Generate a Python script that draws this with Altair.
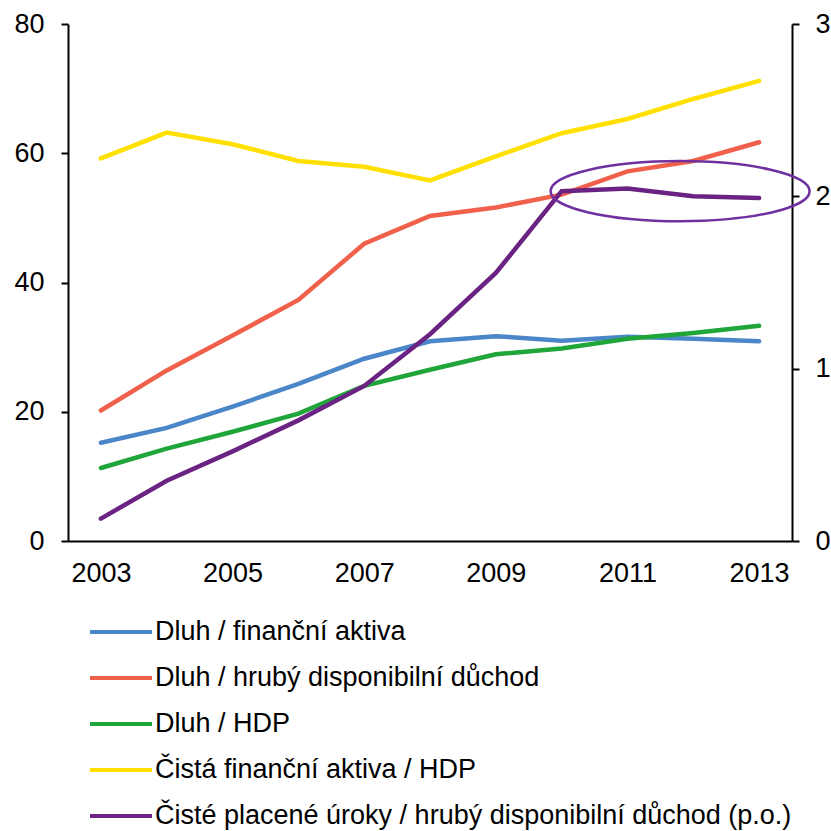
import altair as alt
import pandas as pd

years = list(range(2003, 2014))

names = [
    "Dluh / finanční aktiva",
    "Dluh / hrubý disponibilní důchod",
    "Dluh / HDP",
    "Čistá finanční aktiva / HDP",
    "Čisté placené úroky / hrubý disponibilní důchod (p.o.)",
]
colors = ["#4A86C8", "#F0604A", "#1FA53A", "#FFE000", "#6A2382"]

# left axis series (%)
dluh_aktiva = [15.2, 17.5, 20.8, 24.3, 28.2, 30.9, 31.7, 31.0, 31.6, 31.3, 30.9]
dluh_duchod = [20.2, 26.4, 31.8, 37.3, 46.0, 50.3, 51.6, 53.6, 57.2, 58.8, 61.7]
dluh_hdp = [11.3, 14.3, 16.9, 19.7, 24.0, 26.5, 28.9, 29.8, 31.3, 32.2, 33.3]
cista_aktiva = [59.2, 63.2, 61.4, 58.8, 57.9, 55.8, 59.5, 63.1, 65.3, 68.4, 71.2]
# right axis series
uroky = [0.13, 0.35, 0.52, 0.70, 0.90, 1.20, 1.555, 2.03, 2.045, 2.0, 1.99]

# highlighted region around the last years of the interest series
highlight_year = [2011.8]
highlight_value = [2.03]

left_rows = []
for name, vals in zip(names[:4], [dluh_aktiva, dluh_duchod, dluh_hdp, cista_aktiva]):
    for y, v in zip(years, vals):
        left_rows.append({"rok": y, "hodnota": v, "rada": name})
left_df = pd.DataFrame(left_rows)
right_df = pd.DataFrame({"rok": years, "hodnota": uroky, "rada": names[4]})
hl_df = pd.DataFrame({"rok": highlight_year, "hodnota": highlight_value})

FONT = "Liberation Sans"
TICK_FS = 27
LINE_W = 4.5

x_enc = alt.X(
    "rok:Q",
    scale=alt.Scale(domain=[2002.5, 2013.5], nice=False, zero=False),
    axis=alt.Axis(
        values=[2003, 2005, 2007, 2009, 2011, 2013],
        format="d",
        title=None,
        grid=False,
        ticks=False,
        labelPadding=19,
        labelFontSize=TICK_FS,
        labelFont=FONT,
        labelColor="#000000",
        domainColor="#000000",
        domainWidth=2,
    ),
)

color_enc = alt.Color(
    "rada:N",
    scale=alt.Scale(domain=names, range=colors),
    title=None,
    legend=alt.Legend(
        orient="none",
        legendX=20,
        legendY=575,
        direction="vertical",
        symbolType="stroke",
        symbolSize=3844,
        symbolStrokeWidth=4,
        labelFontSize=27,
        labelFont=FONT,
        labelColor="#000000",
        labelOffset=1,
        labelLimit=800,
        rowPadding=-20,
    ),
)

left = alt.Chart(left_df).mark_line(strokeWidth=LINE_W, strokeCap="round").encode(
    x=x_enc,
    y=alt.Y(
        "hodnota:Q",
        scale=alt.Scale(domain=[0, 80], nice=False),
        axis=alt.Axis(
            values=[0, 20, 40, 60, 80],
            format="d",
            title=None,
            grid=False,
            orient="left",
            tickSize=7,
            tickWidth=2,
            tickColor="#000000",
            labelPadding=17,
            labelFontSize=TICK_FS,
            labelFont=FONT,
            labelColor="#000000",
            domainColor="#000000",
            domainWidth=2,
        ),
    ),
    color=color_enc,
)

right_y = alt.Y(
    "hodnota:Q",
    scale=alt.Scale(domain=[0, 3], nice=False),
    axis=alt.Axis(
        values=[0, 1, 2, 3],
        format="d",
        title=None,
        grid=False,
        orient="right",
        tickSize=7,
        tickWidth=2,
        tickColor="#000000",
        labelPadding=16,
        labelFontSize=TICK_FS,
        labelFont=FONT,
        labelColor="#000000",
        domainColor="#000000",
        domainWidth=2,
    ),
)

right = alt.Chart(right_df).mark_line(strokeWidth=LINE_W, strokeCap="round").encode(
    x=x_enc,
    y=right_y,
    color=color_enc,
)

ellipse = alt.Chart(hl_df).mark_point(
    shape="M -1 0 A 1 0.232 0 1 1 1 0 A 1 0.232 0 1 1 -1 0 Z",
    size=67081,
    filled=False,
    stroke="#7030A0",
    strokeWidth=2.5,
    opacity=1,
).encode(
    x=alt.X("rok:Q", scale=alt.Scale(domain=[2002.5, 2013.5], nice=False, zero=False)),
    y=alt.Y("hodnota:Q", scale=alt.Scale(domain=[0, 3], nice=False)),
)

right_layer = alt.layer(right, ellipse)

chart = (
    alt.layer(left, right_layer)
    .resolve_scale(y="independent")
    .properties(
        width=724,
        height=517,
        padding={"left": 68, "top": 24, "right": 39, "bottom": 290},
        autosize=alt.AutoSizeParams(type="none"),
        background="#FFFFFF",
    )
    .configure_view(stroke=None)
)

chart.save("out.html", embed_options={"renderer": "svg", "actions": False})
